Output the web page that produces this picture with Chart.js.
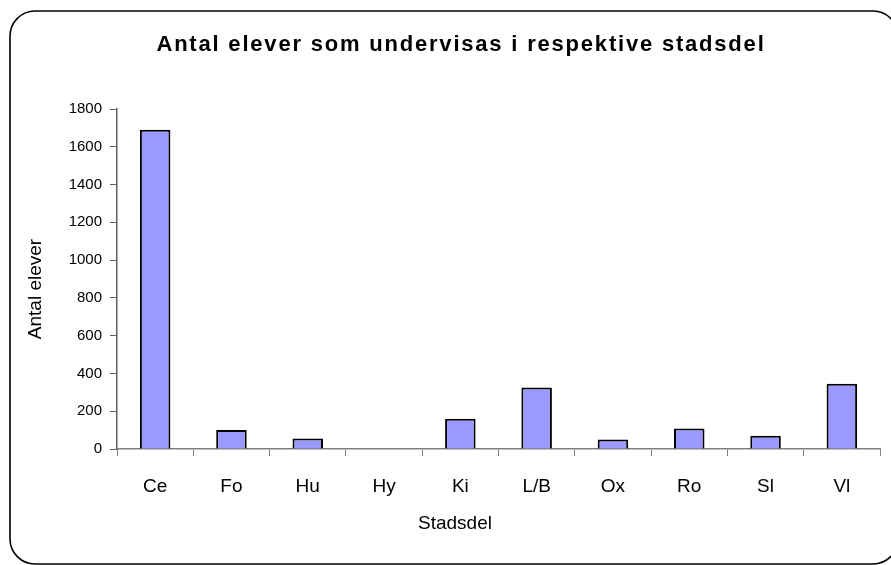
<!DOCTYPE html>
<html>
<head>
<meta charset="utf-8">
<script src="https://cdn.jsdelivr.net/npm/chart.js@4"></script>
<style>
  html, body { margin: 0; padding: 0; background: #fff; }
  #wrap { width: 891px; height: 565px; position: relative; }
</style>
</head>
<body>
<div id="wrap"><canvas id="chart" width="891" height="565"></canvas></div>
<script>
// ---- DATA ----
const districts = ['Ce', 'Fo', 'Hu', 'Hy', 'Ki', 'L/B', 'Ox', 'Ro', 'Sl', 'Vl'];
const pupilCounts = [1690, 100, 55, 0, 160, 325, 50, 108, 70, 345];
const yTicks = [0, 200, 400, 600, 800, 1000, 1200, 1400, 1600, 1800];

const chartTitle = 'Antal elever som undervisas i respektive stadsdel';
const xTitle = 'Stadsdel';
const yTitle = 'Antal elever';

const FONT = '"Liberation Sans", Arial, sans-serif';

// ---- FRAME + TITLES ----
const framePlugin = {
  id: 'frame',
  beforeDraw(chart) {
    const ctx = chart.ctx;
    ctx.save();
    ctx.fillStyle = '#fff';
    ctx.fillRect(0, 0, chart.width, chart.height);
    ctx.beginPath();
    ctx.roundRect(10, 11, 888, 553, 25);
    ctx.lineWidth = 1.6;
    ctx.strokeStyle = '#000';
    ctx.stroke();
    ctx.restore();
  },
  afterDraw(chart) {
    const ctx = chart.ctx;
    ctx.save();
    ctx.fillStyle = '#000';
    ctx.textAlign = 'center';
    ctx.textBaseline = 'middle';
    ctx.font = 'bold 22px ' + FONT;
    ctx.letterSpacing = '1.8px';
    ctx.fillText(chartTitle, 461, 45);
    ctx.letterSpacing = '0px';
    ctx.font = '19px ' + FONT;
    ctx.fillText(xTitle, 455, 524);
    ctx.translate(36, 289);
    ctx.rotate(-Math.PI / 2);
    ctx.fillText(yTitle, 0, 0);
    ctx.restore();
  }
};

new Chart(document.getElementById('chart'), {
  type: 'bar',
  data: {
    labels: districts,
    datasets: [{
      data: pupilCounts,
      backgroundColor: '#9999ff',
      borderColor: '#000',
      borderWidth: 2,
      categoryPercentage: 0.8,
      barPercentage: 0.5
    }]
  },
  options: {
    responsive: false,
    animation: false,
    devicePixelRatio: 1,
    layout: { padding: { left: 0, top: 109, right: 11, bottom: 0 } },
    plugins: {
      legend: { display: false },
      tooltip: { enabled: false }
    },
    scales: {
      x: {
        afterFit(scale) { scale.height = 116; },
        grid: {
          offset: true,
          drawOnChartArea: false,
          drawTicks: true,
          tickLength: 7,
          color: '#808080'
        },
        border: { color: '#808080', width: 1.5 },
        ticks: {
          color: '#000',
          font: { family: FONT, size: 19 },
          padding: 19
        }
      },
      y: {
        min: 0,
        max: 1800,
        afterFit(scale) { scale.width = 117; },
        afterBuildTicks(scale) { scale.ticks = yTicks.map(v => ({ value: v })); },
        grid: {
          drawOnChartArea: false,
          drawTicks: true,
          tickLength: 7,
          color: '#606060'
        },
        border: { color: '#606060', width: 1.5 },
        ticks: {
          color: '#000',
          font: { family: FONT, size: 15 },
          padding: 8,
          callback: v => String(v)
        }
      }
    }
  },
  plugins: [framePlugin]
});
</script>
</body>
</html>
